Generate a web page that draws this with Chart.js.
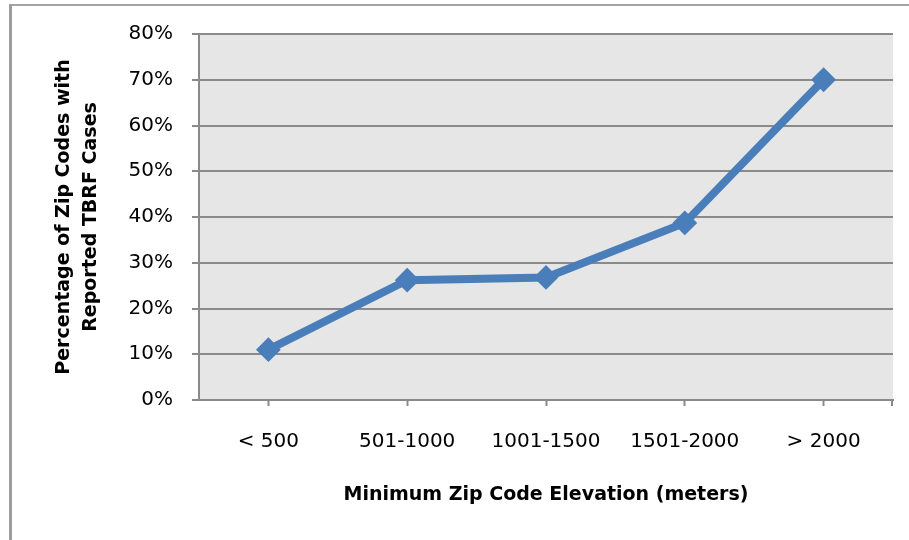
<!DOCTYPE html>
<html>
<head>
<meta charset="utf-8">
<script src="https://cdn.jsdelivr.net/npm/chart.js@4/dist/chart.umd.min.js"></script>
<style>
  html, body { margin: 0; padding: 0; background: #fff; }
  #wrap { position: relative; width: 909px; height: 540px; overflow: hidden; }
  #frame {
    position: absolute; left: 9px; top: 4px; width: 910px; height: 540px;
    border-top: 2px solid #a3a3a3; border-left: 3px solid #9c9c9c;
  }
  #chart { position: absolute; left: 0; top: 0; }
</style>
</head>
<body>
<div id="wrap">
  <div id="frame"></div>
  <canvas id="chart" width="909" height="540"></canvas>
</div>
<script>
// dados
const categories = ['< 500', '501-1000', '1001-1500', '1501-2000', '> 2000'];
const percentValues = [11, 26.2, 26.8, 38.7, 70];
const yTicks = [0, 10, 20, 30, 40, 50, 60, 70, 80];

const xTitle = 'Minimum Zip Code Elevation (meters)';
const yTitle = ['Percentage of Zip Codes with', 'Reported TBRF Cases'];

const fontFamily = '"DejaVu Sans", sans-serif';
const gridColor = '#8a8a8a';
const lineColor = '#4a7ebb';

// fundo cinza da área do gráfico + marca final do eixo x
const plotBackground = {
    id: 'plotBackground',
    beforeDraw(chart) {
        const { ctx, chartArea } = chart;
        ctx.save();
        ctx.fillStyle = '#e6e6e6';
        ctx.fillRect(chartArea.left, chartArea.top, chartArea.right - chartArea.left, chartArea.bottom - chartArea.top);
        ctx.restore();
    },
    afterDraw(chart) {
        const { ctx, chartArea } = chart;
        ctx.save();
        ctx.strokeStyle = gridColor;
        ctx.lineWidth = 2;
        ctx.beginPath();
        ctx.moveTo(chartArea.right - 1, chartArea.bottom);
        ctx.lineTo(chartArea.right - 1, chartArea.bottom + 6);
        ctx.stroke();
        ctx.restore();
    }
};

const ctx = document.getElementById('chart').getContext('2d');
new Chart(ctx, {
    type: 'line',
    data: {
        labels: categories,
        datasets: [{
            data: percentValues,
            borderColor: lineColor,
            backgroundColor: lineColor,
            borderWidth: 8,
            pointStyle: 'rectRot',
            pointRadius: 11,
            pointBorderWidth: 2,
            pointBackgroundColor: lineColor,
            pointBorderColor: lineColor,
            tension: 0,
            fill: false
        }]
    },
    options: {
        responsive: false,
        animation: false,
        events: [],
        layout: { padding: { top: 34, right: 16, left: 0, bottom: 0 } },
        plugins: {
            legend: { display: false },
            tooltip: { enabled: false }
        },
        scales: {
            x: {
                offset: true,
                grid: {
                    offset: false,
                    drawOnChartArea: false,
                    drawTicks: true,
                    tickLength: 6,
                    tickWidth: 2,
                    tickColor: gridColor
                },
                border: { color: gridColor, width: 2 },
                ticks: {
                    color: '#000',
                    padding: 24,
                    maxRotation: 0,
                    font: { family: fontFamily, size: 20 }
                },
                title: {
                    display: true,
                    text: xTitle,
                    color: '#000',
                    padding: { top: 0, bottom: 32 },
                    font: { family: fontFamily, size: 19, weight: 'bold', lineHeight: 1.4 }
                },
                afterFit(scale) { scale.height = 140; }
            },
            y: {
                min: 0,
                max: 80,
                afterBuildTicks(scale) {
                    scale.ticks = yTicks.map(v => ({ value: v }));
                },
                grid: {
                    color: gridColor,
                    lineWidth: 2,
                    tickLength: 7,
                    tickColor: gridColor
                },
                border: { color: gridColor, width: 2 },
                ticks: {
                    color: '#000',
                    padding: 19,
                    callback: v => v + '%',
                    font: { family: fontFamily, size: 20 }
                },
                title: {
                    display: true,
                    text: yTitle,
                    color: '#000',
                    padding: { top: 50, bottom: 0 },
                    font: { family: fontFamily, size: 19, weight: 'bold', lineHeight: 1.45 }
                },
                afterFit(scale) { scale.width = 199; }
            }
        }
    },
    plugins: [plotBackground]
});
</script>
</body>
</html>
